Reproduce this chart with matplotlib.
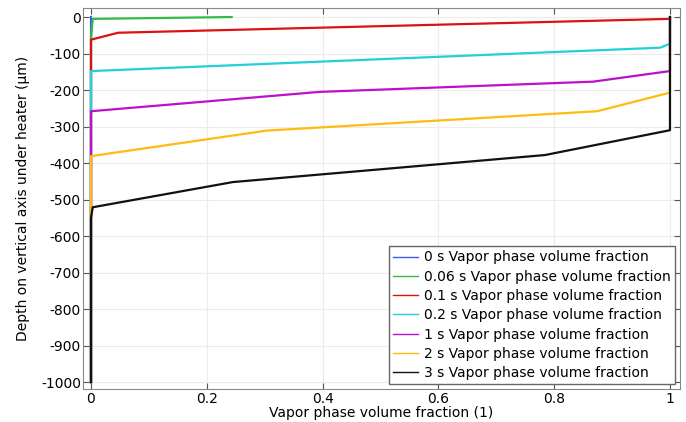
import matplotlib
matplotlib.use("Agg")
import matplotlib.pyplot as plt

plt.rcParams['axes.unicode_minus'] = False
plt.rcParams['font.family'] = ['DejaVu Sans']

labels = ["0 s Vapor phase volume fraction",
          "0.06 s Vapor phase volume fraction",
          "0.1 s Vapor phase volume fraction",
          "0.2 s Vapor phase volume fraction",
          "1 s Vapor phase volume fraction",
          "2 s Vapor phase volume fraction",
          "3 s Vapor phase volume fraction"]
colors = ["#3a5ce8", "#33bb44", "#dd1111", "#22d0d8", "#bb11cc", "#ffbb11", "#111111"]

# vapor fraction (x) vs depth (y, um)
frac_0s = [0, 0]
depth_0s = [-1000, 0]
frac_006s = [0, 0, 0.003, 0.243]
depth_006s = [-1000, -60, -5, 0]
frac_01s = [0, 0, 0.047, 0.5, 1]
depth_01s = [-1000, -62, -43, -25, -5]
frac_02s = [0, 0, 0.983, 1, 1]
depth_02s = [-1000, -148, -84, -73, 0]
frac_1s = [0, 0, 0.395, 0.867, 1, 1]
depth_1s = [-1000, -258, -205, -177, -148, 0]
frac_2s = [0, 0, 0.304, 0.874, 1, 1]
depth_2s = [-1000, -381, -311, -258, -207, 0]
frac_3s = [0, 0, 0.003, 0.245, 0.784, 1, 1]
depth_3s = [-1000, -550, -521, -452, -378, -310, 0]

fracs = [frac_0s, frac_006s, frac_01s, frac_02s, frac_1s, frac_2s, frac_3s]
depths = [depth_0s, depth_006s, depth_01s, depth_02s, depth_1s, depth_2s, depth_3s]

fig = plt.figure(figsize=(6.86, 4.22), dpi=100)
ax = fig.add_axes([0.121, 0.078, 0.870, 0.903])

for x, y, c, lab in zip(fracs, depths, colors, labels):
    ax.plot(x, y, color=c, lw=1.6, label=lab)

ax.set_xlim(-0.0138, 1.017)
ax.set_ylim(-1019, 24.7)
ax.set_xticks([0, 0.2, 0.4, 0.6, 0.8, 1])
ax.set_xticklabels(["0", "0.2", "0.4", "0.6", "0.8", "1"])
ax.set_yticks(range(-1000, 1, 100))
ax.tick_params(direction='in', top=True, right=True, labelsize=10, length=4,
               color='#555555')
ax.tick_params(axis='x', pad=2)
ax.tick_params(axis='y', pad=1.5)
ax.grid(True, color='#ececec', lw=0.8)
for s in ax.spines.values():
    s.set_color('#888888')
ax.set_xlabel("Vapor phase volume fraction (1)", fontsize=10, labelpad=0)
ax.set_ylabel("Depth on vertical axis under heater (µm)", fontsize=10, labelpad=8)

leg = ax.legend(loc='lower right', fontsize=10, fancybox=False, framealpha=1,
                edgecolor='#666666', handlelength=1.8, labelspacing=0.38,
                borderpad=0.3, handletextpad=0.4, borderaxespad=0.35)
for h in leg.get_lines():
    h.set_linewidth(1.0)

fig.savefig("out.png", dpi=100)
